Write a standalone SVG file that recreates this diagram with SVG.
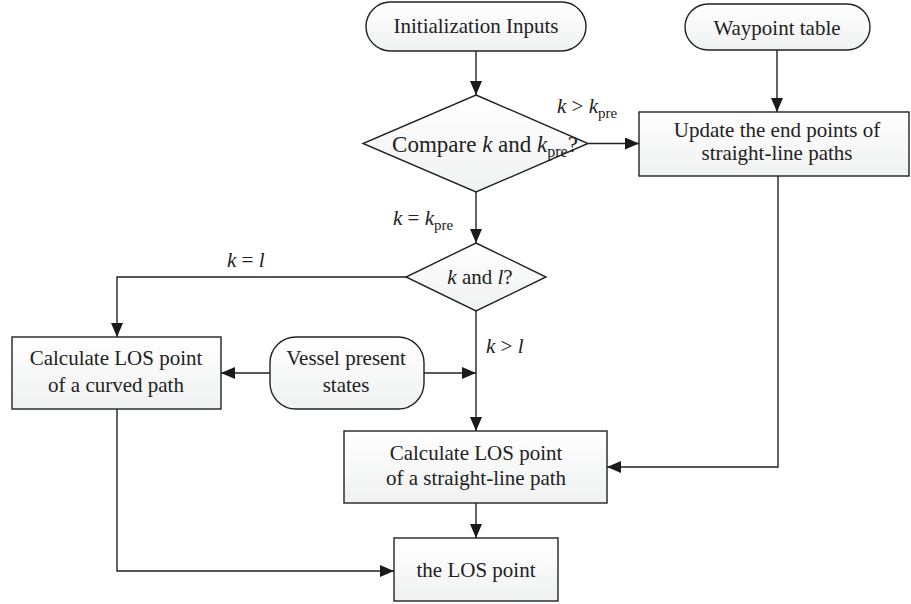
<svg xmlns="http://www.w3.org/2000/svg" width="911" height="604" viewBox="0 0 911 604">
<defs>
<linearGradient id="g" x1="0" y1="0" x2="0" y2="1">
<stop offset="0" stop-color="#ffffff"/>
<stop offset="1" stop-color="#f0f1f1"/>
</linearGradient>
<marker id="ar" viewBox="0 0 14 12" refX="14" refY="6" markerWidth="14" markerHeight="12" markerUnits="userSpaceOnUse" orient="auto">
<path d="M0,0 L14,6 L0,12 Z" fill="#1a1a1a"/>
</marker>
<style>
.s{fill:url(#g);stroke:#222;stroke-width:1.4}
.t{font-family:"Liberation Serif","Times New Roman",serif;font-size:21px;fill:#222;text-anchor:middle}
.l{font-family:"Liberation Serif","Times New Roman",serif;font-size:21px;fill:#222}
.c{fill:none;stroke:#222;stroke-width:1.4;marker-end:url(#ar)}
.i{font-style:italic}
.sb{font-size:15px}
</style>
</defs>
<rect width="911" height="604" fill="#fff"/>
<g id="connectors">
<path class="c" d="M476,51 V95"/>
<path class="c" d="M588,143.5 H639"/>
<path class="c" d="M777,50 V112"/>
<path class="c" d="M476,192 V243"/>
<path class="c" d="M406,277 H117 V337"/>
<path class="c" d="M270,373 H221"/>
<path class="c" d="M424,373 H476"/>
<path class="c" d="M476,311 V431"/>
<path class="c" d="M778,176 V467 H607"/>
<path class="c" d="M476,503 V538"/>
<path class="c" d="M117,409 V571 H394"/>
</g>
<g id="labels">
<text class="l" x="557" y="113"><tspan class="i">k</tspan> &gt; <tspan class="i">k</tspan><tspan class="sb" dy="5">pre</tspan></text>
<text class="l" x="393" y="225"><tspan class="i">k</tspan> = <tspan class="i">k</tspan><tspan class="sb" dy="5">pre</tspan></text>
<text class="l" x="227" y="267"><tspan class="i">k</tspan> = <tspan class="i">l</tspan></text>
<text class="l" x="486" y="353"><tspan class="i">k</tspan> &gt; <tspan class="i">l</tspan></text>
</g>
<g id="init">
<rect class="s" x="366" y="2" width="220" height="49" rx="24.5"/>
<text class="t" x="476" y="33">Initialization Inputs</text>
</g>
<g id="waypoint">
<rect class="s" x="685" y="4" width="185" height="46" rx="23"/>
<text class="t" x="777" y="35">Waypoint table</text>
</g>
<g id="compare">
<path class="s" d="M476,95 L588,143.5 L476,192 L363,143.5 Z"/>
<text class="t" x="485" y="152" style="font-size:23px">Compare <tspan class="i">k</tspan> and <tspan class="i">k</tspan><tspan dy="5" style="font-size:16px">pre</tspan><tspan dy="-5">?</tspan></text>
</g>
<g id="update">
<rect class="s" x="639" y="112" width="270" height="64"/>
<text class="t" x="777" y="137">Update the end points of</text>
<text class="t" x="777" y="160">straight-line paths</text>
</g>
<g id="kl">
<path class="s" d="M476,243 L546,277 L476,311 L406,277 Z"/>
<text class="t" x="480" y="284"><tspan class="i">k</tspan> and <tspan class="i">l</tspan>?</text>
</g>
<g id="curved">
<rect class="s" x="12" y="337" width="209" height="72"/>
<text class="t" x="116" y="365">Calculate LOS point</text>
<text class="t" x="116" y="392">of a curved path</text>
</g>
<g id="vessel">
<rect class="s" x="270" y="337" width="154" height="72" rx="26"/>
<text class="t" x="346" y="365">Vessel present</text>
<text class="t" x="346" y="392">states</text>
</g>
<g id="straight">
<rect class="s" x="344" y="431" width="263" height="72"/>
<text class="t" x="476" y="460">Calculate LOS point</text>
<text class="t" x="476" y="485">of a straight-line path</text>
</g>
<g id="los">
<rect class="s" x="394" y="538" width="164" height="63"/>
<text class="t" x="476" y="577">the LOS point</text>
</g>
</svg>
